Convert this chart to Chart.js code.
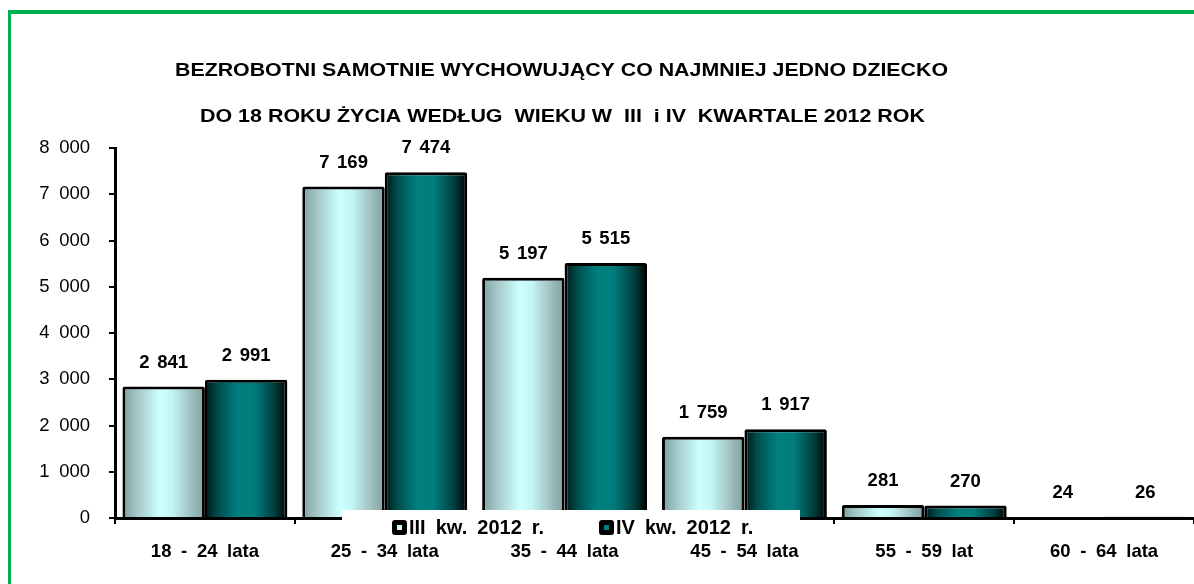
<!DOCTYPE html>
<html>
<head>
<meta charset="utf-8">
<script src="https://cdn.jsdelivr.net/npm/chart.js@4/dist/chart.umd.min.js"></script>
<style>
html,body{margin:0;padding:0;background:#fff;}
#wrap{width:1194px;height:584px;position:relative;}
</style>
</head>
<body>
<div id="wrap"><canvas id="c" width="1194" height="584"></canvas></div>
<script>
const categories = ['18 - 24 lata', '25 - 34 lata', '35 - 44 lata', '45 - 54 lata', '55 - 59 lat', '60 - 64 lata'];
const seriesNames = ['III kw. 2012 r.', 'IV kw. 2012 r.'];
const seriesIII = [2841, 7169, 5197, 1759, 281, 24];
const seriesIV = [2991, 7474, 5515, 1917, 270, 26];
const titleLines = ['BEZROBOTNI SAMOTNIE WYCHOWUJĄCY CO NAJMNIEJ JEDNO DZIECKO', 'DO 18 ROKU ŻYCIA WEDŁUG  WIEKU W  III  i IV  KWARTALE 2012 ROK'];
const yMin = 0, yMax = 8000, yStep = 1000;

const FONT = '"Liberation Sans", Arial, sans-serif';
function fmt(v){ return String(v).replace(/\B(?=(\d{3})+(?!\d))/g, ' '); }

const gradStops = [
  [[0,'#7f9f9f'],[0.2,'#a8cccc'],[0.45,'#ccffff'],[0.6,'#c4f5f5'],[0.85,'#9cbcbc'],[1,'#7f9f9f']],
  [[0,'#001414'],[0.15,'#004c4c'],[0.4,'#008080'],[0.6,'#007c7c'],[0.85,'#003c3c'],[1,'#000000']]
];
const legendFill = ['#ccffff', '#008080'];

function drawFitted(ctx, text, x0, x1, y){
  const w = ctx.measureText(text).width;
  const sx = (x1 - x0) / w;
  ctx.save();
  ctx.translate(x0, y);
  ctx.scale(sx, 1);
  ctx.textAlign = 'left';
  ctx.fillText(text, 0, 0);
  ctx.restore();
}

const decor = {
  id: 'decor',
  beforeDraw(chart){
    const ctx = chart.ctx;
    ctx.save();
    ctx.fillStyle = '#ffffff';
    ctx.fillRect(0,0,chart.width,chart.height);
    ctx.fillStyle = '#00b050';
    ctx.fillRect(8,10,chart.width-8,4);
    ctx.fillRect(8,10,3,chart.height-10);
    ctx.restore();
    ctx.wordSpacing = '4.5px';
  },
  beforeDatasetsDraw(chart){
    const ctx = chart.ctx;
    chart.data.datasets.forEach((ds, di) => {
      const meta = chart.getDatasetMeta(di);
      meta.data.forEach(el => {
        const x0 = el.x - el.width/2, x1 = el.x + el.width/2;
        const g = ctx.createLinearGradient(x0, 0, x1, 0);
        gradStops[di].forEach(s => g.addColorStop(s[0], s[1]));
        el.options = Object.assign({}, el.options, {backgroundColor: g});
      });
    });
  },
  afterDatasetsDraw(chart){
    const ctx = chart.ctx;
    ctx.save();
    ctx.wordSpacing = '2.5px';
    ctx.font = 'bold 18.5px ' + FONT;
    ctx.fillStyle = '#000';
    ctx.textAlign = 'center';
    ctx.textBaseline = 'middle';
    chart.data.datasets.forEach((ds, di) => {
      const meta = chart.getDatasetMeta(di);
      meta.data.forEach((el, i) => {
        ctx.fillText(fmt(ds.data[i]), el.x, el.y - 24);
      });
    });
    ctx.restore();
  },
  afterDraw(chart){
    const ctx = chart.ctx;
    ctx.save();
    ctx.wordSpacing = '0px';
    ctx.fillStyle = '#000';
    ctx.textBaseline = 'middle';
    ctx.font = 'bold 18.5px ' + FONT;
    drawFitted(ctx, titleLines[0], 175, 948, 71);
    drawFitted(ctx, titleLines[1], 200, 925, 117);
    // legend
    ctx.fillStyle = '#ffffff';
    ctx.fillRect(342, 510, 458, 27);
    ctx.wordSpacing = '4.5px';
    ctx.font = 'bold 20px ' + FONT;
    ctx.textAlign = 'left';
    const lx = [392, 599];
    seriesNames.forEach((n, i) => {
      ctx.fillStyle = '#000';
      ctx.beginPath();
      ctx.roundRect(lx[i], 520, 15, 15, 3);
      ctx.fill();
      ctx.fillStyle = legendFill[i];
      ctx.fillRect(lx[i]+5, 525, 5, 5);
      ctx.fillStyle = '#000';
      ctx.fillText(n, lx[i]+17, 528);
    });
    ctx.restore();
  }
};

new Chart(document.getElementById('c'), {
  type: 'bar',
  data: {
    labels: categories,
    datasets: [
      {label: seriesNames[0], data: seriesIII, borderColor: '#000', borderWidth: 3, borderRadius: 2, borderSkipped: 'start'},
      {label: seriesNames[1], data: seriesIV, borderColor: '#000', borderWidth: 3, borderRadius: 2, borderSkipped: 'start'}
    ]
  },
  options: {
    responsive: false,
    animation: false,
    layout: {padding: {top: 148, left: 0, right: 0, bottom: 0}},
    plugins: {legend: {display: false}, title: {display: false}, tooltip: {enabled: false}},
    datasets: {bar: {categoryPercentage: 0.917, barPercentage: 1.0}},
    scales: {
      x: {
        grid: {display: true, drawOnChartArea: false, drawTicks: true, tickLength: 6, color: '#000', lineWidth: 2, offset: true},
        border: {display: true, color: '#000', width: 3},
        ticks: {color: '#000', font: {family: FONT, size: 18.5, weight: 'bold'}, padding: 17, maxRotation: 0, autoSkip: false},
        afterFit(s){ s.height = 66; }
      },
      y: {
        min: yMin, max: yMax,
        grid: {display: true, drawOnChartArea: false, drawTicks: true, tickLength: 6, color: '#000', lineWidth: 2},
        border: {display: true, color: '#000', width: 3},
        ticks: {stepSize: yStep, color: '#000', font: {family: FONT, size: 18.5}, padding: 19, callback: v => fmt(v)},
        afterFit(s){ s.width = 115; }
      }
    }
  },
  plugins: [decor]
});
</script>
</body>
</html>
